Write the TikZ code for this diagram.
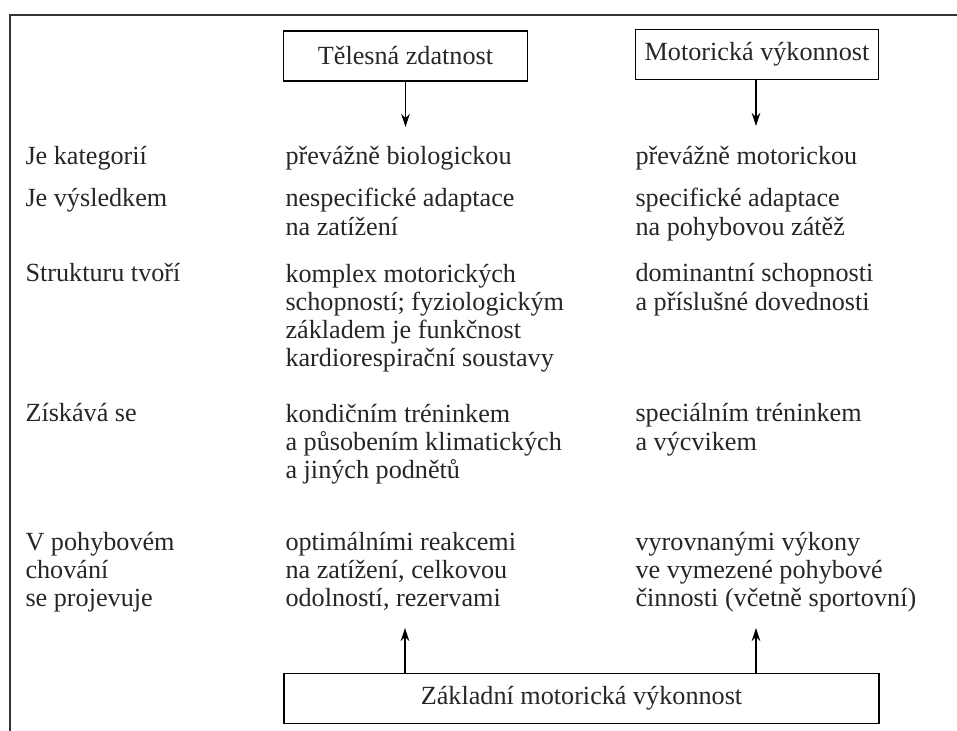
\documentclass[tikz,border=0pt]{standalone}
\usepackage{fontspec}
\setmainfont{Liberation Serif}
\usepackage{tikz}
\usetikzlibrary{arrows.meta,positioning,calc}

\newcommand{\cellfont}{\fontsize{14.9}{16.1}\selectfont\lineskiplimit=-100pt\relax}

\begin{document}
\begin{tikzpicture}[>={Stealth[length=2.6mm,width=1.7mm]}, line width=0.6pt,
    every node/.style={font=\cellfont, text=black!85},
    cell/.style={anchor=base west, align=left, inner sep=0pt},
    headbox/.style={draw, minimum width=4.87cm, minimum height=1cm, inner sep=0pt}]
    \useasboundingbox (0,0) rectangle (19.14,14.62);
    % Frame
    \draw[black!80] (0.2,0) -- (0.2,14.32) -- (19.14,14.32);

    \def\colA{0.5}
    \def\colB{5.7}
    \def\colC{12.7}
    \def\lh{0.566}
    % Boxes
    \node[headbox] (zdatnost) at (8.11,13.5) {Tělesná zdatnost};
    \node[headbox] (vykonnost) at (15.14,13.53) {Motorická výkonnost};
    \node[headbox, minimum width=11.9cm] (zakladni) at (11.63,0.65) {Základní motorická výkonnost};

    % Rows (y = baseline of the last line)
    \node[cell] (kategorie) at (\colA,11.32) {Je kategorií};
    \node[cell] (kategorie-tz) at (\colB,11.32) {převážně biologickou};
    \node[cell] (kategorie-mv) at (\colC,11.32) {převážně motorickou};

    \node[cell] (vysledek) at (\colA,10.48) {Je výsledkem};
    \node[cell] (vysledek-tz) at (\colB,10.48-\lh) {nespecifické adaptace\\na zatížení};
    \node[cell] (vysledek-mv) at (\colC,10.48-\lh) {specifické adaptace\\na pohybovou zátěž};

    \node[cell] (struktura) at (\colA,8.98) {Strukturu tvoří};
    \node[cell] (struktura-tz) at (\colB,8.98-3*\lh) {komplex motorických\\schopností; fyziologickým\\základem je funkčnost\\kardiorespirační soustavy};
    \node[cell] (struktura-mv) at (\colC,8.98-\lh) {dominantní schopnosti\\a příslušné dovednosti};

    \node[cell] (ziskava) at (\colA,6.18) {Získává se};
    \node[cell] (ziskava-tz) at (\colB,6.18-2*\lh) {kondičním tréninkem\\a působením klimatických\\a jiných podnětů};
    \node[cell] (ziskava-mv) at (\colC,6.18-\lh) {speciálním tréninkem\\a výcvikem};

    \node[cell] (chovani) at (\colA,3.62-2*\lh) {V pohybovém\\chování\\se projevuje};
    \node[cell] (chovani-tz) at (\colB,3.62-2*\lh) {optimálními reakcemi\\na zatížení, celkovou\\odolností, rezervami};
    \node[cell] (chovani-mv) at (\colC,3.62-2*\lh) {vyrovnanými výkony\\ve vymezené pohybové\\činnosti (včetně sportovní)};

    % Arrows
    \coordinate (zdatnost-tip) at (8.11,12.08);
    \coordinate (vykonnost-tip) at (15.12,12.1);
    \coordinate (zakladni-tz) at (8.1,2.06);
    \coordinate (zakladni-mv) at (15.12,2.06);
    \draw[->] (zdatnost.south) -- (zdatnost-tip);
    \draw[->] (vykonnost.south -| vykonnost-tip) -- (vykonnost-tip);
    \draw[->] (zakladni.north -| zakladni-tz) -- (zakladni-tz);
    \draw[->] (zakladni.north -| zakladni-mv) -- (zakladni-mv);
\end{tikzpicture}
\end{document}
